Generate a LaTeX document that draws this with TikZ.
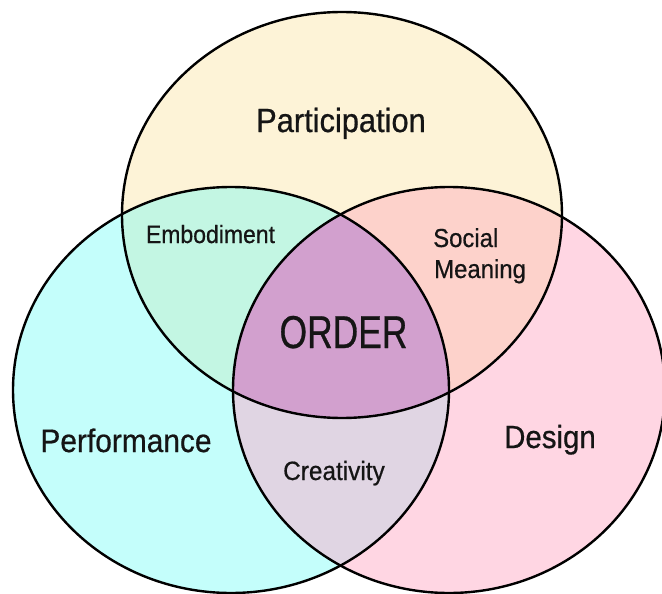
\documentclass[tikz,border=0pt]{standalone}
\usepackage{fontspec}
\setmainfont[FakeStretch=0.92,FakeBold=0.6]{Liberation Sans}
\newfontfamily\orderfont[FakeStretch=0.77,FakeBold=0.6]{Liberation Sans}

% region colours
\definecolor{cPart}{HTML}{FDF3D7}
\definecolor{cPerf}{HTML}{C4FEFB}
\definecolor{cDes}{HTML}{FFD6E3}
\definecolor{cEmb}{HTML}{C3F6E3}
\definecolor{cSoc}{HTML}{FDD2CB}
\definecolor{cCre}{HTML}{E0D5E3}
\definecolor{cOrd}{HTML}{D2A0CE}
\definecolor{ink}{HTML}{151515}

% the three sets
\newcommand\setPart{(342,215) ellipse [x radius=220, y radius=203]}
\newcommand\setPerf{(231,390) ellipse [x radius=218, y radius=203]}
\newcommand\setDes{(449,390) ellipse [x radius=216, y radius=203]}

\begin{document}
\begin{tikzpicture}[x=1pt,y=-1pt,
  outline/.style={draw=black,line width=2.4pt},
  lbl/.style={inner sep=0pt,anchor=base,text=ink}]
\useasboundingbox (0,0) rectangle (662,594);

% single sets
\fill[cPart] \setPart;
\fill[cPerf] \setPerf;
\fill[cDes] \setDes;

% pairwise overlaps
\begin{scope}
  \clip \setPart;
  \fill[cEmb] \setPerf;
  \fill[cSoc] \setDes;
\end{scope}
\begin{scope}
  \clip \setPerf;
  \fill[cCre] \setDes;
\end{scope}
% common core
\begin{scope}
  \clip \setPart;
  \clip \setPerf;
  \fill[cOrd] \setDes;
\end{scope}

% outlines
\draw[outline] \setPart;
\draw[outline] \setPerf;
\draw[outline] \setDes;

% labels
\node[lbl] (part) at (341,132) {\fontsize{33.5}{40}\selectfont Participation};
\node[lbl] (perf) at (126,452) {\fontsize{32.5}{39}\selectfont Performance};
\node[lbl] (des) at (550,448) {\fontsize{32}{38}\selectfont Design};
\node[lbl] (emb) at (210.5,243) {\fontsize{25}{30}\selectfont Embodiment};
\node[lbl,anchor=base west] (soc) at (433,247) {\fontsize{26}{31}\selectfont Social};
\node[lbl,anchor=base west] (mea) at (434,278) {\fontsize{26}{31}\selectfont Meaning};
\node[lbl] (cre) at (334,480) {\fontsize{26.5}{31}\selectfont Creativity};
\node[lbl] (ord) at (343.5,348) {\orderfont\fontsize{46}{55}\selectfont ORDER};
\end{tikzpicture}
\end{document}
